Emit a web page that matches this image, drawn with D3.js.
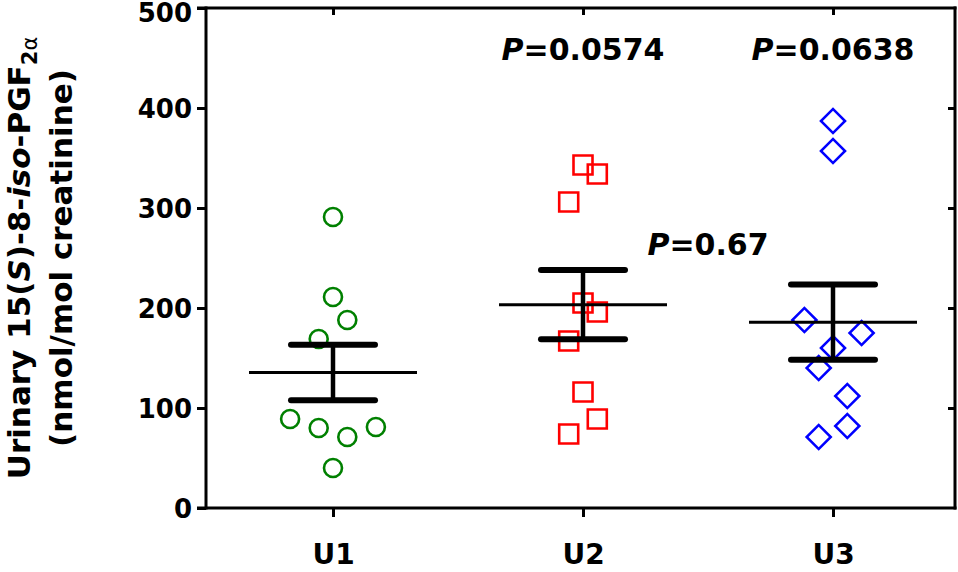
<!DOCTYPE html>
<html>
<head>
<meta charset="utf-8">
<script src="https://cdn.jsdelivr.net/npm/d3@7"></script>
<style>
  body { margin: 0; background: #fff; }
  text { font-family: "DejaVu Sans", Verdana, sans-serif; font-weight: bold; }
</style>
</head>
<body>
<div id="chart"></div>
<script>
// ------- Data -------
const groups = ["U1", "U2", "U3"];
const u1Values = [291, 211, 188, 169, 89, 80, 71, 81, 40];
const u2Values = [343, 334, 306, 205, 196, 167, 116, 89, 74];
const u3Values = [387, 357, 188, 175, 160, 140, 112, 82, 71];
// scatter column of each point (jitter slot, left <0 < right)
const u1Cols = [0, 0, 1, -1, -3, -1, 1, 3, 0];
const u2Cols = [0, 1, -1, 0, 1, -1, 0, 1, -1];
const u3Cols = [0, 0, -2, 2, 0, -1, 1, 1, -1];
const yTicks = [0, 100, 200, 300, 400, 500];
const pLabels = [
  { text: "0.0574", at: ["U2"], value: 448 },
  { text: "0.0638", at: ["U3"], value: 448 },
  { text: "0.67", at: ["U2", "U3"], value: 253 }
];

// ------- Chart Setup -------
const W = 958, H = 572;
const plotLeft = 206, plotRight = 955, plotTop = 8, plotBottom = 508;

const svg = d3.select("#chart")
  .append("svg")
  .attr("width", W)
  .attr("height", H);

const x = d3.scalePoint()
  .domain(groups)
  .range([333, 833]);

const y = d3.scaleLinear()
  .domain([0, 500])
  .range([plotBottom, plotTop]);

const jitter = d3.scaleLinear().domain([0, 1]).range([0, 14.3]);

const series = [
  { key: "U1", values: u1Values, cols: u1Cols, color: "#008000", shape: "circle" },
  { key: "U2", values: u2Values, cols: u2Cols, color: "#ff0000", shape: "square" },
  { key: "U3", values: u3Values, cols: u3Cols, color: "#0000ff", shape: "diamond" }
];

// ------- Axes / frame -------
function styleAxis(g) {
  g.select(".domain").attr("stroke", "#000").attr("stroke-width", 3);
  g.selectAll(".tick line").attr("stroke", "#000").attr("stroke-width", 3);
  g.selectAll(".tick text")
    .attr("fill", "#000")
    .style("font-size", "26px");
}

// left axis
svg.append("g")
  .attr("transform", `translate(${plotLeft},0)`)
  .call(d3.axisLeft(y).tickValues(yTicks).tickSize(9).tickSizeOuter(0).tickPadding(5))
  .call(styleAxis)
  .call(g => g.select(".domain").attr("d", `M0,${plotBottom + 1.5}V${plotTop - 1.5}`))
  .call(g => g.selectAll(".tick text").attr("dy", d => d === 500 ? "0.5em" : "0.36em"));

// right axis (inward ticks)
svg.append("g")
  .attr("transform", `translate(${plotRight},0)`)
  .call(d3.axisRight(y).tickValues(yTicks.slice(1, -1)).tickSize(-7).tickSizeOuter(0).tickFormat(""))
  .call(styleAxis)
  .call(g => g.select(".domain").attr("d", `M0,${plotBottom + 1.5}V${plotTop - 1.5}`));

// bottom axis
svg.append("g")
  .attr("transform", `translate(0,${plotBottom})`)
  .call(d3.axisBottom(x).tickSize(9).tickSizeOuter(0).tickPadding(27))
  .call(styleAxis)
  .call(g => g.select(".domain").attr("d", `M${plotLeft - 9},0H${plotRight + 1.5}`))
  .call(g => g.selectAll(".tick text").style("font-size", "28px"));

// top axis (inward ticks)
svg.append("g")
  .attr("transform", `translate(0,${plotTop})`)
  .call(d3.axisTop(x).tickSize(-7).tickSizeOuter(0).tickFormat(""))
  .call(styleAxis)
  .call(g => g.select(".domain").attr("d", `M${plotLeft - 9},0H${plotRight + 1.5}`));

// ------- Points -------
const sym = {
  circle: d3.symbol().type(d3.symbolCircle).size(Math.PI * 9 * 9),
  square: d3.symbol().type(d3.symbolSquare).size(19 * 19),
  diamond: d3.symbol().type(d3.symbolSquare).size(17 * 17)
};

series.forEach(s => {
  const g = svg.append("g");
  g.selectAll("path")
    .data(s.values.map((v, i) => ({ v, c: s.cols[i] })))
    .enter()
    .append("path")
    .attr("d", sym[s.shape]())
    .attr("transform", d => `translate(${x(s.key) + jitter(d.c)},${y(d.v)})` + (s.shape === "diamond" ? " rotate(45)" : ""))
    .attr("fill", "none")
    .attr("stroke", s.color)
    .attr("stroke-width", 2.6);
});

// ------- Mean +/- SEM -------
series.forEach(s => {
  const m = d3.mean(s.values);
  const sem = d3.deviation(s.values) / Math.sqrt(s.values.length);
  const cx = x(s.key);
  const g = svg.append("g").attr("stroke", "#000");

  g.append("line")
    .attr("x1", cx - 84).attr("x2", cx + 84)
    .attr("y1", y(m)).attr("y2", y(m))
    .attr("stroke-width", 3);

  g.append("line")
    .attr("x1", cx).attr("x2", cx)
    .attr("y1", y(m - sem)).attr("y2", y(m + sem))
    .attr("stroke-width", 4.5);

  [m - sem, m + sem].forEach(v => {
    g.append("line")
      .attr("x1", cx - 42).attr("x2", cx + 42)
      .attr("y1", y(v)).attr("y2", y(v))
      .attr("stroke-width", 6)
      .attr("stroke-linecap", "round");
  });
});

// ------- P values -------
pLabels.forEach(p => {
  const px = d3.mean(p.at, k => x(k));
  const t = svg.append("text")
    .attr("x", px)
    .attr("y", y(p.value))
    .attr("text-anchor", "middle")
    .style("font-size", "30px");
  t.append("tspan").style("font-style", "italic").text("P");
  t.append("tspan").text("=" + p.text);
});

// ------- Y label -------
const midY = (plotTop + plotBottom) / 2;
const lab1 = svg.append("text")
  .attr("transform", `translate(30,${midY}) rotate(-90)`)
  .attr("text-anchor", "middle")
  .style("font-size", "31px");
lab1.append("tspan").text("Urinary 15(");
lab1.append("tspan").style("font-style", "italic").text("S");
lab1.append("tspan").text(")-8-");
lab1.append("tspan").style("font-style", "italic").text("iso");
lab1.append("tspan").text("-PGF");
lab1.append("tspan").attr("dy", 7).style("font-size", "21px").text("2");
lab1.append("tspan").style("font-size", "21px").style("font-weight", "normal").text("α");

svg.append("text")
  .attr("transform", `translate(72,${midY}) rotate(-90)`)
  .attr("text-anchor", "middle")
  .style("font-size", "31px")
  .text("(nmol/mol creatinine)");
</script>
</body>
</html>
